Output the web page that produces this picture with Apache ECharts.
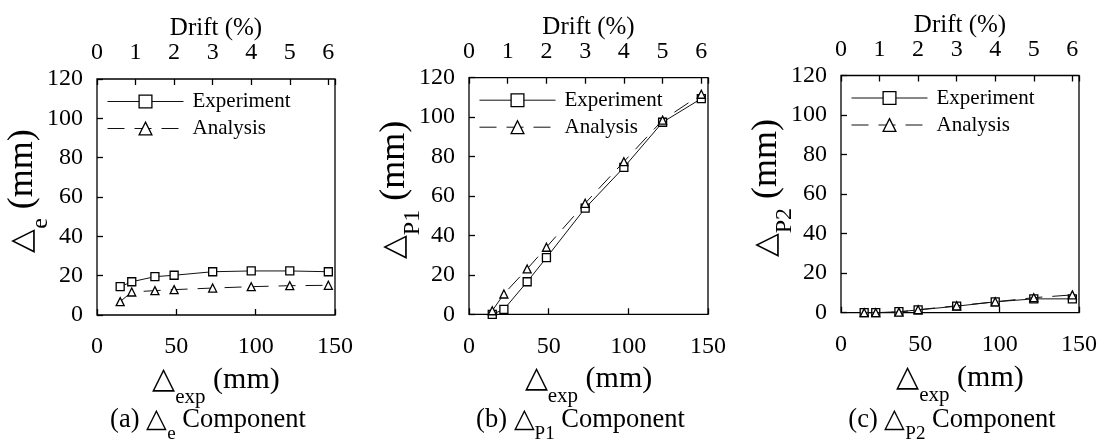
<!DOCTYPE html>
<html><head><meta charset="utf-8">
<script src="https://cdn.jsdelivr.net/npm/echarts@6/dist/echarts.min.js"></script>
<style>html,body{margin:0;padding:0;background:#fff}#c{width:1104px;height:439px}</style>
</head><body><div id="c"></div>
<script>
// ---- data ----
const expDisp = [14.6, 21.9, 36.5, 48.6, 72.9, 97.2, 121.5, 145.8];   // Δexp (mm)
const eExperiment = [14.4, 16.9, 19.5, 20.2, 22.0, 22.4, 22.4, 22.0];
const eAnalysis   = [6.8, 11.7, 12.4, 12.9, 13.7, 14.4, 14.9, 15.1];
const p1Experiment = [0, 2.5, 16.5, 28.7, 53.8, 74.5, 97.4, 109.4];
const p1Analysis   = [1.8, 10.3, 23.0, 34.0, 56.3, 77.4, 98.5, 111.6];
const p2Experiment = [0, 0, 0.5, 1.4, 3.3, 5.5, 7.0, 7.0];
const p2Analysis   = [0, 0, 0.3, 1.5, 3.5, 5.5, 7.6, 9.0];
const seriesNames = ['Experiment', 'Analysis'];
const xRange = [0, 150], xStep = 50;
const yRange = [0, 120], yStep = 20;
const mmPerDrift = 24.3;          // 1 % drift in mm
const driftStep = 1;
const panelSubs = ['e', 'P1', 'P2'];
const panelLetters = ['a', 'b', 'c'];
const panelData = [[eExperiment, eAnalysis], [p1Experiment, p1Analysis], [p2Experiment, p2Analysis]];

// ---- layout ----
const FONT = '"Liberation Serif", "Times New Roman", serif';
const grids = [
  {left: 97,  top: 79,   width: 238, height: 236},
  {left: 469, top: 77.7, width: 239, height: 236.6},
  {left: 841, top: 75.5, width: 238, height: 237.2}
];
const dash = [17, 10];
const zip = (xs, ys) => xs.map((x, i) => [x, ys[i]]);

const option = {
  animation: false,
  textStyle: {fontFamily: FONT, color: '#000'},
  grid: grids.map(g => Object.assign({show: true, borderColor: '#000', borderWidth: 1.3, backgroundColor: 'transparent'}, g)),
  xAxis: [], yAxis: [], series: [], legend: [], graphic: []
};

grids.forEach((g, i) => {
  option.xAxis.push({
    type: 'value', gridIndex: i, position: 'bottom', min: xRange[0], max: xRange[1], interval: xStep,
    axisLine: {show: false}, splitLine: {show: false},
    axisTick: {inside: true, length: 6, lineStyle: {color: '#000', width: 1.3}},
    axisLabel: {margin: 20, fontFamily: FONT, fontSize: 24, color: '#000'},
    name: '{t|△}{s|exp}{t| (mm)}', nameLocation: 'middle', nameGap: 49, nameMoveOverlap: false,
    nameTextStyle: {rich: {
      t: {fontFamily: FONT, fontSize: 30, color: '#000', lineHeight: 32},
      s: {fontFamily: FONT, fontSize: 21, color: '#000', lineHeight: 18, verticalAlign: 'bottom', padding: [0, 0, -12, 0]}
    }}
  });
  option.xAxis.push({
    type: 'value', gridIndex: i, position: 'top', min: 0, max: xRange[1] / mmPerDrift, interval: driftStep,
    axisLine: {show: false}, splitLine: {show: false},
    axisTick: {inside: true, length: 6, lineStyle: {color: '#000', width: 1.3}},
    axisLabel: {margin: 14, fontFamily: FONT, fontSize: 24, color: '#000',
      formatter: v => (Math.abs(v - Math.round(v)) < 1e-6 ? String(Math.round(v)) : '')},
    name: '{d|Drift (%)}', nameLocation: 'middle', nameGap: 38, nameMoveOverlap: false,
    nameTextStyle: {rich: {d: {fontFamily: FONT, fontSize: 25, color: '#000'}}}
  });
  option.yAxis.push({
    type: 'value', gridIndex: i, min: yRange[0], max: yRange[1], interval: yStep,
    axisLine: {show: false}, splitLine: {show: false},
    axisTick: {inside: true, length: 6, lineStyle: {color: '#000', width: 1.3}},
    axisLabel: {margin: 14, fontFamily: FONT, fontSize: 24, color: '#000'},
    name: '{g|△}{s|' + panelSubs[i] + '}{t| (mm)}', nameLocation: 'middle', nameRotate: 90, nameGap: 56,
    nameMoveOverlap: false,
    nameTextStyle: {padding: [0, 0, 0, 12], rich: {
      g: {fontFamily: FONT, fontSize: 31, color: '#000', lineHeight: 36},
      t: {fontFamily: FONT, fontSize: 36, color: '#000', lineHeight: 36},
      s: {fontFamily: FONT, fontSize: 24, color: '#000', lineHeight: 18, verticalAlign: 'bottom', padding: [0, 0, -12, 0]}
    }}
  });
  const [ex, an] = panelData[i];
  option.series.push({
    name: seriesNames[0], type: 'line', xAxisIndex: 2 * i, yAxisIndex: i,
    data: zip(expDisp, ex), symbol: 'rect', symbolSize: 8,
    itemStyle: {color: '#fff', borderColor: '#000', borderWidth: 1.3},
    lineStyle: {color: '#111', width: 1}, z: 3
  });
  option.series.push({
    name: seriesNames[1], type: 'line', xAxisIndex: 2 * i, yAxisIndex: i,
    data: zip(expDisp, an), symbol: 'triangle', symbolSize: 8,
    itemStyle: {color: '#fff', borderColor: '#000', borderWidth: 1.3},
    lineStyle: {color: '#111', width: 1, type: dash}, z: 4
  });
  option.legend.push({
    left: g.left + 10, top: g.top + 12, orient: 'vertical', padding: 0,
    itemWidth: 76, itemHeight: 16, itemGap: 6, selectedMode: false,
    data: [
      {name: seriesNames[0], lineStyle: {type: 'solid'}},
      {name: seriesNames[1], lineStyle: {type: dash}}
    ],
    itemStyle: {color: '#fff', borderColor: '#000', borderWidth: 1.3},
    lineStyle: {color: '#111', width: 1},
    textStyle: {fontFamily: FONT, fontSize: 21, color: '#000', padding: [0, 0, 0, 4]}
  });
  option.graphic.push({
    type: 'text', x: g.left + g.width / 2 - 8, y: 420,
    style: {
      text: '{t|(' + panelLetters[i] + ') △}{s|' + panelSubs[i] + '}{t| Component}',
      align: 'center', verticalAlign: 'middle',
      rich: {
        t: {fontFamily: FONT, fontSize: 26.5, fill: '#000', lineHeight: 28},
        s: {fontFamily: FONT, fontSize: 19, fill: '#000', lineHeight: 16, verticalAlign: 'bottom', padding: [0, 0, -10, 0]}
      }
    }
  });
});

const chart = echarts.init(document.getElementById('c'), null, {renderer: 'canvas'});
chart.setOption(option);
</script>
</body></html>
